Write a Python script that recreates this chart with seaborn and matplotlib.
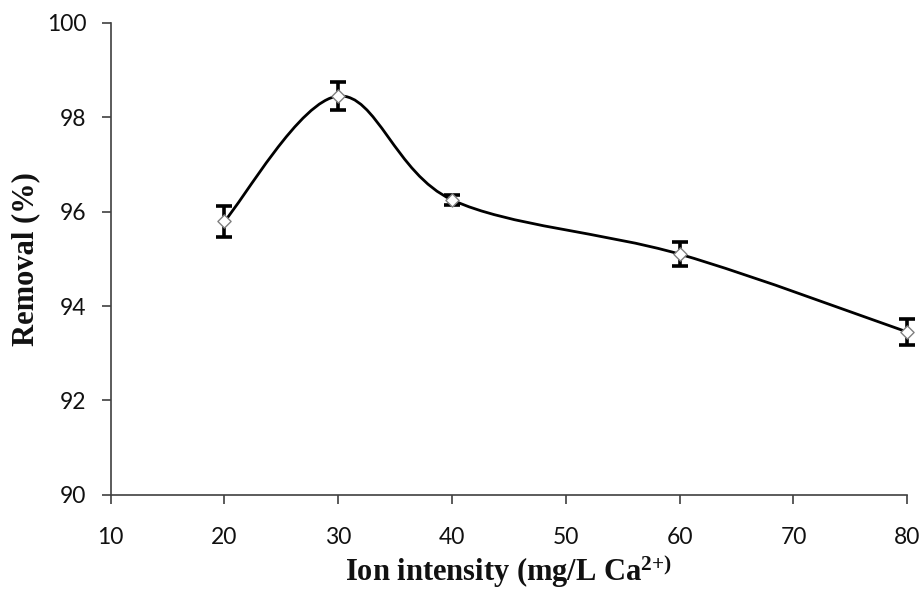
import numpy as np
import pandas as pd
import matplotlib
matplotlib.use("Agg")
import matplotlib.pyplot as plt
from matplotlib.path import Path
from matplotlib.patches import PathPatch
import seaborn as sns

ion = [20, 30, 40, 60, 80]
removal = [95.8, 98.45, 96.25, 95.1, 93.45]
err = [0.33, 0.3, 0.1, 0.25, 0.27]
xticks = [10, 20, 30, 40, 50, 60, 70, 80]
yticks = [90, 92, 94, 96, 98, 100]

df = pd.DataFrame({"ion": ion, "removal": removal, "err": err})

sns.set_style("white")
plt.rcParams["font.family"] = ["Lato", "DejaVu Sans"]
plt.rcParams["mathtext.fontset"] = "custom"
plt.rcParams["mathtext.rm"] = "Liberation Serif:bold"
plt.rcParams["mathtext.bf"] = "Liberation Serif:bold"
plt.rcParams["mathtext.it"] = "Liberation Serif:bold"

fig = plt.figure(figsize=(9.22, 5.89), dpi=100)
ax = fig.add_axes([0.120, 0.160, 0.864, 0.801])

# smooth curve (Excel-like Bezier through the points)
xs = df["ion"].to_numpy(float)
ys = df["removal"].to_numpy(float)
n = len(xs)
verts = [(xs[0], ys[0])]
codes = [Path.MOVETO]
t = 1 / 6
for i in range(n - 1):
    p0 = (xs[i - 1], ys[i - 1]) if i > 0 else (xs[i], ys[i])
    p1 = (xs[i], ys[i])
    p2 = (xs[i + 1], ys[i + 1])
    p3 = (xs[i + 2], ys[i + 2]) if i + 2 < n else p2
    c1 = (p1[0] + (p2[0] - p0[0]) * t, p1[1] + (p2[1] - p0[1]) * t)
    c2 = (p2[0] - (p3[0] - p1[0]) * t, p2[1] - (p3[1] - p1[1]) * t)
    verts += [c1, c2, p2]
    codes += [Path.CURVE4] * 3
ax.add_patch(PathPatch(Path(verts, codes), facecolor="none", edgecolor="black",
                       lw=2, zorder=2, clip_on=False))

eb = ax.errorbar(df["ion"], df["removal"], yerr=df["err"], fmt="none", ecolor="black",
                 elinewidth=2.6, capsize=6, capthick=2.6, zorder=3)
for art in eb.lines[1] + eb.lines[2]:
    art.set_clip_on(False)
sns.scatterplot(data=df, x="ion", y="removal", marker="D", s=45, facecolor="white",
                edgecolor="#808080", linewidth=1, ax=ax, zorder=4, clip_on=False)

ax.set_xlim(10, 80)
ax.set_ylim(90, 100)
ax.set_xticks(xticks)
ax.set_yticks(yticks)
ax.tick_params(axis="both", direction="out", length=6.5, width=1.2, color="#404040",
               labelsize=16.5, labelcolor="#111111", bottom=True, left=True)
ax.tick_params(axis="y", pad=11)
ax.tick_params(axis="x", pad=17)
for s in ["top", "right"]:
    ax.spines[s].set_visible(False)
for s in ["left", "bottom"]:
    ax.spines[s].set_color("#404040")
    ax.spines[s].set_linewidth(1.2)
ax.spines["left"].set_zorder(1)

ax.set_xlabel("Ion intensity (mg/L Ca$^{2{+})}$", family="Liberation Serif",
              fontweight="bold", fontsize=22, labelpad=3, color="#111111")
ax.set_ylabel("Removal (%)", family="Liberation Serif", fontweight="bold",
              fontsize=22, labelpad=5, color="#111111")
ax.set_facecolor("white")
fig.patch.set_facecolor("white")
fig.savefig("out.png", dpi=100)
